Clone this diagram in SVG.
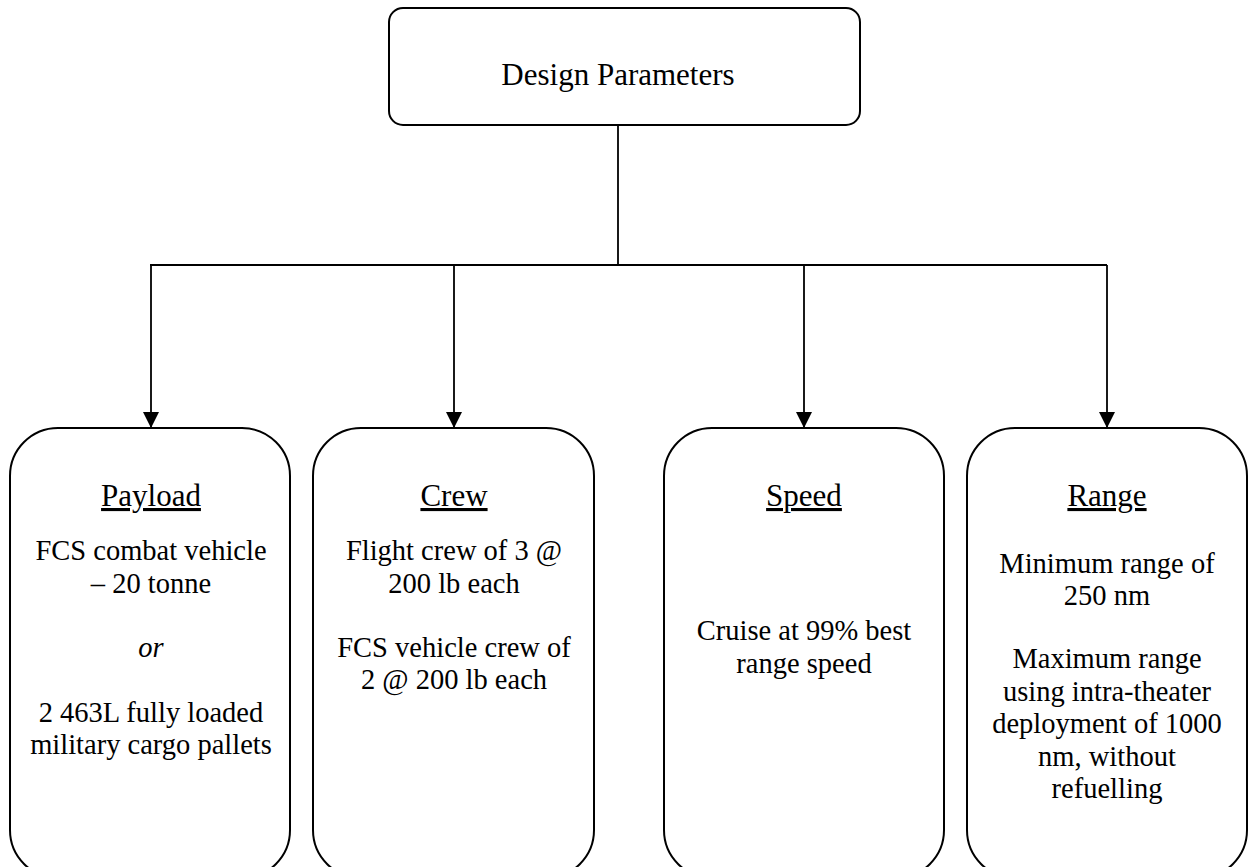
<svg xmlns="http://www.w3.org/2000/svg" width="1250" height="867" viewBox="0 0 1250 867">
<style>
.box{fill:#fff;stroke:#000;stroke-width:2}
.conn{fill:none;stroke:#000;stroke-width:1.8}
.lbl{font-family:'Liberation Serif','Tinos','Times New Roman','DejaVu Serif',serif;fill:#000;text-anchor:middle}
.h{font-size:31px;text-decoration:underline}
.t{font-size:31px}
.b{font-size:28.5px}
.i{font-style:italic}
</style>
<defs>
<marker id="arr" markerWidth="16" markerHeight="16" viewBox="0 0 16 16" refX="16" refY="8" orient="auto" markerUnits="userSpaceOnUse">
<path d="M0,0 L16,8 L0,16 Z" fill="#000"/>
</marker>
</defs>
<rect width="1250" height="867" fill="#fff"/>
<g id="connectors">
<path class="conn" d="M618,125 V265"/>
<path class="conn" d="M150,265 H1107"/>
<path class="conn" d="M151,265 V428" marker-end="url(#arr)"/>
<path class="conn" d="M454,265 V428" marker-end="url(#arr)"/>
<path class="conn" d="M804,265 V428" marker-end="url(#arr)"/>
<path class="conn" d="M1107,265 V428" marker-end="url(#arr)"/>
</g>
<g id="design-parameters" class="lbl" font-family="Liberation Serif, serif">
<rect class="box" x="389" y="8" width="471" height="117" rx="14"/>
<text class="t" x="618" y="85">Design Parameters</text>
</g>
<g id="payload" class="lbl" font-family="Liberation Serif, serif">
<rect class="box" x="10" y="428" width="280" height="450" rx="48"/>
<text class="h" x="151" y="506">Payload</text>
<text class="b" x="151" y="560">FCS combat vehicle</text>
<text class="b" x="151" y="593">– 20 tonne</text>
<text class="b i" x="151" y="657">or</text>
<text class="b" x="151" y="722">2 463L fully loaded</text>
<text class="b" x="151" y="754">military cargo pallets</text>
</g>
<g id="crew" class="lbl" font-family="Liberation Serif, serif">
<rect class="box" x="313" y="428" width="281" height="450" rx="48"/>
<text class="h" x="454" y="506">Crew</text>
<text class="b" x="454" y="560">Flight crew of 3 @</text>
<text class="b" x="454" y="593">200 lb each</text>
<text class="b" x="454" y="657">FCS vehicle crew of</text>
<text class="b" x="454" y="689">2 @ 200 lb each</text>
</g>
<g id="speed" class="lbl" font-family="Liberation Serif, serif">
<rect class="box" x="664" y="428" width="280" height="450" rx="48"/>
<text class="h" x="804" y="506">Speed</text>
<text class="b" x="804" y="640">Cruise at 99% best</text>
<text class="b" x="804" y="673">range speed</text>
</g>
<g id="range" class="lbl" font-family="Liberation Serif, serif">
<rect class="box" x="967" y="428" width="280" height="450" rx="48"/>
<text class="h" x="1107" y="506">Range</text>
<text class="b" x="1107" y="573">Minimum range of</text>
<text class="b" x="1107" y="605">250 nm</text>
<text class="b" x="1107" y="668">Maximum range</text>
<text class="b" x="1107" y="701">using intra-theater</text>
<text class="b" x="1107" y="733">deployment of 1000</text>
<text class="b" x="1107" y="766">nm, without</text>
<text class="b" x="1107" y="798">refuelling</text>
</g>
</svg>
